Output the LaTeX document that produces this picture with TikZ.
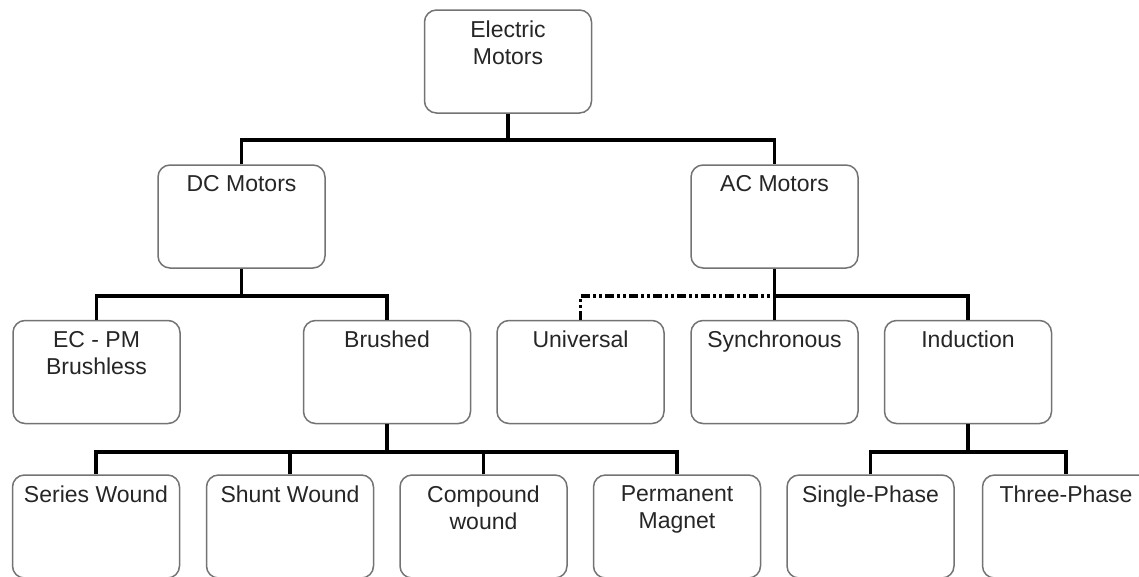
\documentclass[tikz,border=0pt]{standalone}
\usepackage{fontspec}
\setmainfont{Liberation Sans}
\begin{document}
\begin{tikzpicture}[x=1pt,y=-1pt,
  box/.style={draw=black!55, line width=1.5pt, rounded corners=12pt, fill=white,
    minimum width=167pt, minimum height=103pt, inner sep=0pt,
    label={[txt]north:{#1}}},
  txt/.style={anchor=north, yshift=-11pt, align=center, inner sep=0pt,
    text=black!85, font=\fontsize{23}{27}\selectfont},
  conn/.style={line width=3.2pt, black},
  dashconn/.style={line width=3.2pt, black, dash pattern=on 9pt off 3pt on 3pt off 3pt on 3pt off 3pt}]
\useasboundingbox (0,0) rectangle (1139,576);
\clip (0,0) rectangle (1139,576);
% boxes
\node[box={Electric\\Motors}] (em) at (508,61.5) {};
\node[box={DC Motors}] (dc) at (241.5,216.5) {};
\node[box={AC Motors}] (ac) at (774.5,216.5) {};
\node[box={EC - PM\\Brushless}] (ecpm) at (96.5,372) {};
\node[box={Brushed}] (br) at (387,372) {};
\node[box={Universal}] (uni) at (580.5,372) {};
\node[box={Synchronous}] (syn) at (774.5,372) {};
\node[box={Induction}] (ind) at (968,372) {};
\node[box={Series Wound}] (ser) at (96,526.5) {};
\node[box={Shunt Wound}] (shu) at (290,526.5) {};
\node[box={Compound\\wound}] (com) at (483.5,526.5) {};
\node[box={Permanent\\Magnet}] (per) at (677,526.5) {};
\node[box={Single-Phase}] (sin) at (870.5,526.5) {};
\node[box={Three-Phase}] (thr) at (1066,526.5) {};
% junctions
\coordinate (j1) at (508,140);
\coordinate (j2) at (241.5,296);
\coordinate (j3) at (774.5,296);
\coordinate (j4) at (387,452);
\coordinate (j5) at (968,452);
% connectors
\draw[conn] (em.south) -- (j1);
\draw[conn] (dc.north) |- (j1) -| (ac.north);
\draw[conn] (dc.south) -- (j2);
\draw[conn] (ecpm.north) |- (j2) -| (br.north);
\draw[dashconn] (uni.north) |- (j3);
\draw[conn] (ac.south) -- (syn.north);
\draw[conn] (j3) -| (ind.north);
\draw[conn] (br.south) -- (j4);
\draw[conn] (ser.north) |- (j4) -| (per.north);
\draw[conn] (shu.north) -- (shu.north |- j4);
\draw[conn] (com.north) -- (com.north |- j4);
\draw[conn] (ind.south) -- (j5);
\draw[conn] (sin.north) |- (j5) -| (thr.north);
\end{tikzpicture}
\end{document}
